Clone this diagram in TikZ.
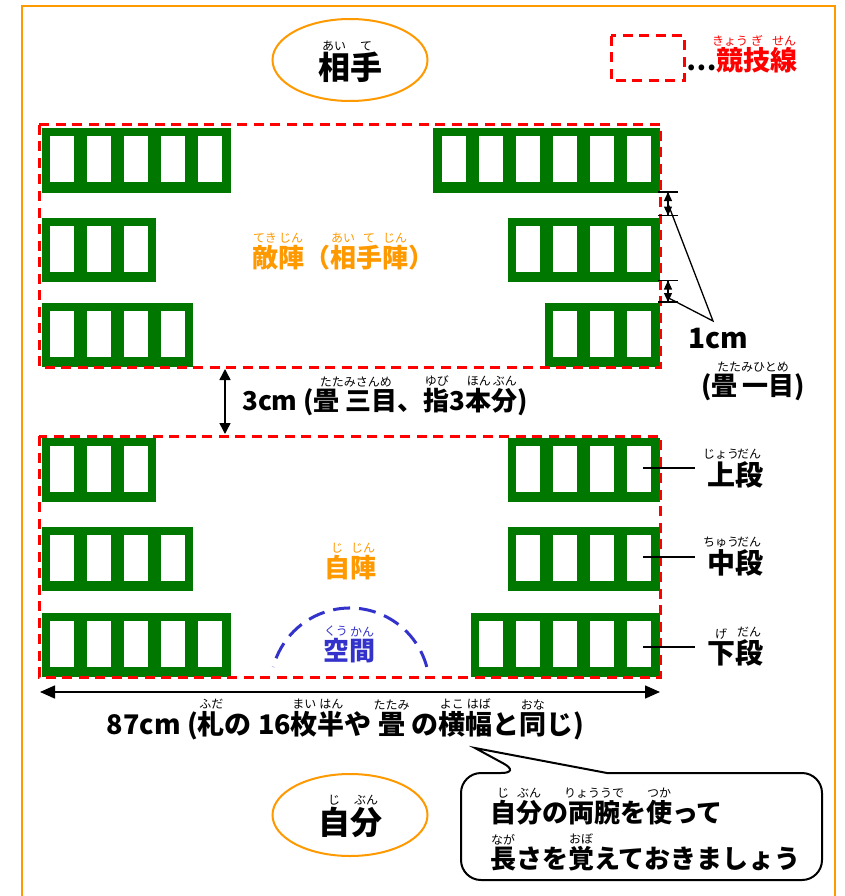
\documentclass[tikz,border=0pt]{standalone}
\usepackage{fontspec}
\setmainfont{Noto Sans CJK JP}
\usetikzlibrary{arrows.meta,shapes.geometric,calc}
\definecolor{tgreen}{RGB}{0,120,0}
\definecolor{korange}{RGB}{255,153,0}
\definecolor{kblue}{RGB}{51,51,204}
\newcommand\rubyfont{\mdseries\fontsize{12}{12}\selectfont}
\newcommand\rb[2]{\leavevmode\setbox0\hbox{#1}\rlap{\raisebox{\dimexpr\ht0+2.5pt\relax}{\hbox to\wd0{\hss\rubyfont#2\hss}}}\box0\relax}
\newcommand\tatamiL[3]{%
  \pgfmathsetmacro\tatw{16.6+37.1*#3-13.1}%
  \fill[tgreen] (#1,#2) rectangle ++(\tatw,64);%
  \foreach \k in {1,...,#3}{\fill[white] ({#1+8.3+37.1*(\k-1)},{#2+8}) rectangle ++(24,46);}%
}
\newcommand\tatamiR[3]{%
  \pgfmathsetmacro\tatww{16.6+37.1*#3-13.1}%
  \pgfmathsetmacro\tatx{#1-\tatww}%
  \tatamiL{\tatx}{#2}{#3}%
}
\begin{document}
\begin{tikzpicture}[x=1pt,y=-1pt,
  lbl/.style={font=\bfseries\fontsize{26}{28}\selectfont, inner sep=0pt},
  big/.style={font=\bfseries\fontsize{32}{34}\selectfont, inner sep=0pt},
  mid/.style={font=\bfseries\fontsize{28}{30}\selectfont, inner sep=0pt},
  comp/.style={draw=red, line width=3pt, dash pattern=on 10pt off 6.5pt},
  ell/.style={draw=korange, line width=2pt, ellipse, minimum width=155pt, minimum height=82pt, inner sep=0pt},
  dim/.style={line width=1.3pt, -{Triangle[length=9pt,width=8pt]}},
  thinl/.style={line width=1.3pt}]
\useasboundingbox (0,0) rectangle (845,896);
\fill[white] (0,0) rectangle (845,896);
% frame
\draw[korange, line width=2pt] (22,900) -- (22,6) -- (835,6) -- (835,900);
% top
\node[ell] (aite) at (350,60) {};
\node[big, anchor=base] (aitetxt) at (350,80) {\rb{相}{あい}\rb{手}{て}};
\draw[comp] (611,36) rectangle (684,81);
\node[font=\bfseries\fontsize{27}{28}\selectfont, inner sep=0pt, anchor=base west] (legend) at (686,71) {…\textcolor{red}{\rb{競}{きょう}\rb{技}{ぎ}\rb{線}{せん}}};
% tatami rows
\tatamiL{41.5}{128.5}{5}
\tatamiR{659.5}{128.5}{6}
\tatamiL{41.5}{217.5}{3}
\tatamiR{659.5}{217.5}{4}
\tatamiL{41.5}{303}{4}
\tatamiR{659.5}{303}{3}
\tatamiL{41.5}{438}{3}
\tatamiR{659.5}{438}{4}
\tatamiL{41.5}{527}{4}
\tatamiR{659.5}{527}{4}
\tatamiL{41.5}{613}{5}
\tatamiR{659.5}{613}{5}
% zones
\draw[comp] (39,125) rectangle (660,367);
\draw[comp] (39,436) rectangle (660,677);
\node[lbl, text=korange, anchor=base] (teki) at (343,267) {\rb{敵}{てき}\rb{陣}{じん}（\rb{相}{あい}\rb{手}{て}\rb{陣}{じん}）};
\node[lbl, text=korange, anchor=base] (jijin) at (350,577) {\rb{自}{じ}\rb{陣}{じん}};
% 1cm dimensions
\coordinate (t1) at (668,192);
\coordinate (t2) at (668,215.5);
\coordinate (t3) at (668,280.5);
\coordinate (t4) at (668,302);
\coordinate (lead) at (713,321);
\foreach \c in {t1,t2,t3,t4}{\draw[thinl] ([xshift=-10pt]\c) -- ([xshift=10pt]\c);}
\draw[dim] ([yshift=-17pt]t1) -- (t1);
\draw[thinl] (t1) -- (t2);
\draw[dim] ([yshift=18pt]t2) -- (t2);
\draw[dim] ([yshift=-19pt]t3) -- (t3);
\draw[thinl] (t3) -- (t4);
\draw[dim] ([yshift=19pt]t4) -- (t4);
\draw[thinl] ($(t1)!0.5!(t2)$) -- (lead) -- ($(t3)!0.8!(t4)$);
\node[mid, anchor=base] (onecm) at (718,348) {1cm};
\node[lbl, anchor=base] (hitome) at (753,395) {(\rb{畳\hspace{5pt}一目}{たたみひとめ})};
% 3cm
\draw[line width=1.5pt, {Triangle[length=11pt,width=11pt]}-{Triangle[length=11pt,width=11pt]}] (225,369) -- (225,434);
\node[lbl, anchor=base west] (threecm) at (242,410) {3cm (\rb{畳\hspace{6pt}三目}{たたみさんめ}、\rb{指}{ゆび}3\rb{本}{ほん}\rb{分}{ぶん})};
% dan labels
\node[mid, anchor=base west] (jodan) at (707,485) {\rb{上}{じょう}\rb{段}{だん}};
\node[mid, anchor=base west] (chudan) at (707,573) {\rb{中}{ちゅう}\rb{段}{だん}};
\node[mid, anchor=base west] (gedan) at (707,663) {\rb{下}{げ}\rb{段}{だん}};
\draw[thinl] (643,468) -- (695,468);
\draw[thinl] (643,557) -- (695,557);
\draw[thinl] (643,647) -- (695,647);
% kukan
\draw[kblue, line width=3pt, dash pattern=on 17pt off 9pt] ([shift={(-15:79.5)}]350,687.5) arc[start angle=-15, end angle=-165, radius=79.5];
\node[lbl, text=kblue, anchor=base] (kukan) at (349,660) {\rb{空}{くう}\rb{間}{かん}};
% 87cm
\draw[line width=1.5pt, {Triangle[length=15pt,width=13pt]}-{Triangle[length=15pt,width=13pt]}] (40,692) -- (660,692);
\node[font=\bfseries\fontsize{27}{29}\selectfont, inner sep=0pt, anchor=base] (width) at (345.5,734) {87cm (\rb{札}{ふだ}の 16\rb{枚}{まい}\rb{半}{はん}や \rb{畳}{たたみ} の\rb{横}{よこ}\rb{幅}{はば}と\rb{同}{おな}じ)};
% bottom
\node[ell] (jibun) at (350,815) {};
\node[big, anchor=base] (jibuntxt) at (350,834) {\rb{自}{じ}\rb{分}{ぶん}};
\draw[line width=2pt, fill=white] (461,826) [rounded corners=20pt] |- (521,773) [sharp corners] -- (475,748) -- (607,773) -- (700,773) [rounded corners=20pt] -| (822,826) |- (461,880) -- cycle;
\node[lbl, anchor=base west] (msg1) at (490,822) {\rb{自}{じ}\rb{分}{ぶん}の\rb{両腕}{りょううで}を\rb{使}{つか}って};
\node[lbl, anchor=base west] (msg2) at (490,868) {\rb{長}{なが}さを\rb{覚}{おぼ}えておきましょう};
\end{tikzpicture}
\end{document}
